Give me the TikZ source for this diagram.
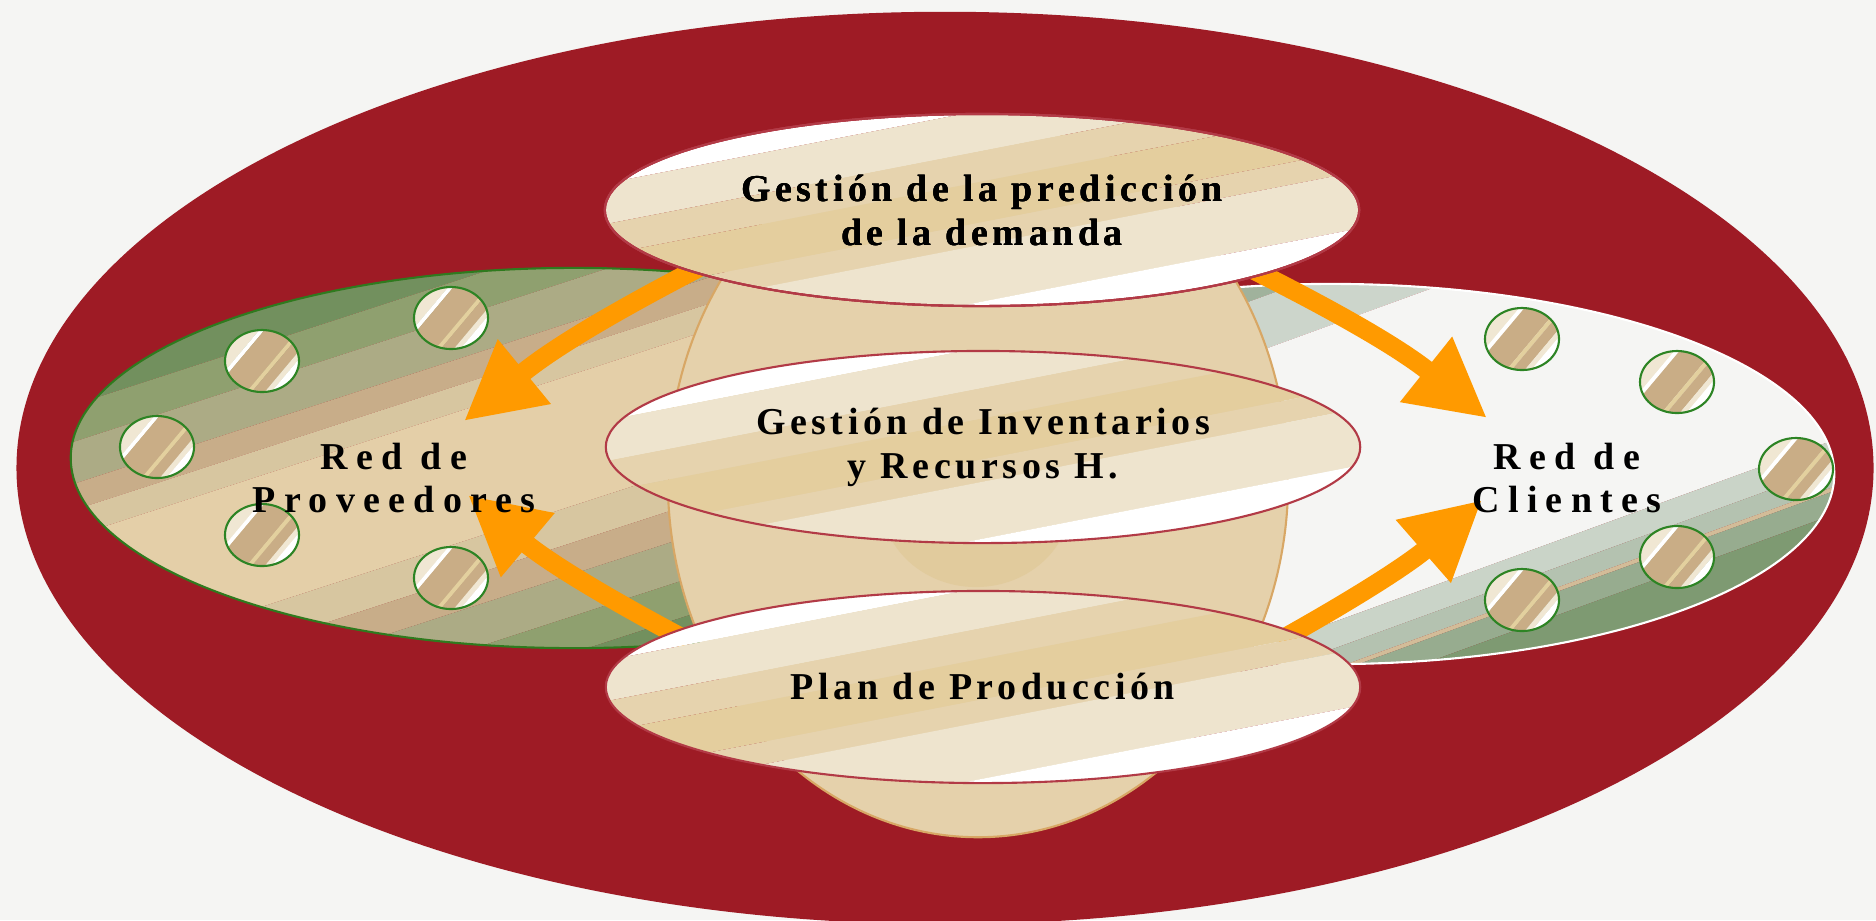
\documentclass[tikz,border=0pt]{standalone}
\usepackage{fontspec}
\usepackage{tikz}
\usetikzlibrary{shapes.geometric}
\usetikzlibrary{arrows.meta}

\newfontfamily\lblfont[LetterSpace=12]{Liberation Serif}
\newfontfamily\sidefont[LetterSpace=22]{Liberation Serif}

\definecolor{bgray}{HTML}{F5F5F3}
\definecolor{ringred}{HTML}{9E1B25}
\definecolor{rimred}{HTML}{B23A46}
\definecolor{coretan}{HTML}{D8A765}
\definecolor{corebeige}{HTML}{E5D1AB}
\definecolor{coredeep}{HTML}{E1CB9D}
\definecolor{provgreen}{HTML}{2F7A1E}
\definecolor{dotgreen}{HTML}{2D8424}
\definecolor{arrorange}{HTML}{FF9A00}
% band colours
\definecolor{bA}{HTML}{EEE4CE}
\definecolor{bB}{HTML}{E6D3AE}
\definecolor{bC}{HTML}{E4CE9E}
\definecolor{dA}{HTML}{F0E7D3}
\definecolor{dB}{HTML}{C9AD86}
\definecolor{dC}{HTML}{E3D09E}
\definecolor{gA}{HTML}{72905E}
\definecolor{gB}{HTML}{8FA06F}
\definecolor{gC}{HTML}{ACAB85}
\definecolor{gD}{HTML}{C8AD89}
\definecolor{gE}{HTML}{D7C6A0}
\definecolor{gF}{HTML}{E4CFA8}
\definecolor{cA}{HTML}{A0B29C}
\definecolor{cB}{HTML}{CCD5CB}
\definecolor{cC}{HTML}{CAD4C8}
\definecolor{cD}{HTML}{B4C2B0}
\definecolor{cE}{HTML}{D3BC98}
\definecolor{cF}{HTML}{97AC8F}
\definecolor{cG}{HTML}{7E9A72}

% diagonal colour bands clipped to an ellipse: centre, radii, angle, from/to/colour list
\newcommand\bands[4]{%
  \begin{scope}
    \clip #1 ellipse [#2];
    \begin{scope}[shift={#1},rotate=#3]
      \foreach \ba/\bb/\bcol in {#4}
        \fill[\bcol] (\ba,-800) rectangle (\bb,800);
    \end{scope}
  \end{scope}}

\pgfdeclarelayer{back}
\pgfdeclarelayer{flows}
\pgfsetlayers{back,flows,main}

\begin{document}
\begin{tikzpicture}[x=0.01cm,y=-0.01cm,
  ring/.style={ellipse,fill=ringred,inner sep=0pt},
  net/.style={ellipse,line width=0.6pt,inner sep=0pt,minimum width=10.06cm,minimum height=3.8cm},
  bead/.style={ellipse,draw=dotgreen,line width=0.6pt,inner sep=0pt,minimum width=0.74cm,minimum height=0.62cm},
  plate/.style={ellipse,draw=rimred,line width=0.6pt,inner sep=0pt,minimum width=7.54cm,minimum height=1.92cm,
    align=center,font=\lblfont\bfseries\fontsize{10.8}{12.5}\selectfont},
  side/.style={align=center,font=\sidefont\bfseries\fontsize{10.8}{12.5}\selectfont},
  feed/.style={color=arrorange,line width=0.19cm,-{Triangle[length=0.78cm,width=0.78cm]},shorten <=-0.2cm}]

  \begin{pgfonlayer}{back}
    \path[use as bounding box,fill=bgray] (0,0) rectangle (1876,920);
    \node[ring,minimum width=18.56cm,minimum height=9.12cm] (ring) at (945,468) {};

    \bands{(574,458)}{x radius=5.03cm,y radius=1.9cm}{-72}
      {-300/-205/gA,-205/-170/gB,-170/-130/gC,-130/-105/gD,-105/-80/gE,-80/45/gF,45/80/gE,80/110/gD,110/150/gC,150/185/gB,185/300/gA}
    \node[net,draw=provgreen] (provs) at (574,458) {};
    \bands{(1331,474)}{x radius=5.03cm,y radius=1.9cm}{-70}
      {-300/-190/cA,-190/-140/cB,-140/140/bgray,140/165/cC,165/184/cD,184/188/cE,188/210/cF,210/300/cG}
    \node[net,draw=white] (clis) at (1331,474) {};

    % beads of the two networks
    \foreach \px/\py [count=\i] in {451/318,262/361,157/447,262/535,451/578}{
      \bands{(\px,\py)}{x radius=0.37cm,y radius=0.31cm}{-40}{-60/-22/dA,-22/-18/white,-18/8/dB,8/12/dC,12/22/dB,22/27/dA,27/60/white}
      \node[bead] (p\i) at (\px,\py) {};}
    \foreach \px/\py [count=\i] in {1522/339,1677/382,1796/469,1677/557,1522/600}{
      \bands{(\px,\py)}{x radius=0.37cm,y radius=0.31cm}{-40}{-60/-22/dA,-22/-18/white,-18/8/dB,8/12/dC,12/22/dB,22/27/dA,27/60/white}
      \node[bead] (c\i) at (\px,\py) {};}

    \node[ellipse,draw=coretan,fill=corebeige,line width=0.6pt,minimum width=6.2cm,minimum height=7.14cm] (core) at (978,480) {};
    \node[ellipse,fill=coredeep,minimum width=1.9cm,minimum height=1.74cm] (hub) at (976,500) {};
  \end{pgfonlayer}

  \foreach \cx/\cy in {982/210,983/447,983/687}
    \bands{(\cx,\cy)}{x radius=3.77cm,y radius=0.96cm}{-79}{-200/-98/white,-98/-58/bA,-58/-28/bB,-28/12/bC,12/34/bB,34/90/bA,90/200/white}
  \node[plate] (pred) at (982,210) {Gestión de la predicción\\de la demanda};
  \node[plate] (inv) at (983,447) {Gestión de Inventarios\\y Recursos H.};
  \node[plate] (plan) at (983,687) {Plan de Producción};

  \node[side] (provlbl) at (394,478) {Red de\\Proveedores};
  \node[side] (clilbl) at (1567,478) {Red de\\Clientes};

  \coordinate (tipA) at (464,421);
  \coordinate (tipB) at (468,495);
  \coordinate (tipC) at (1487,418);
  \coordinate (tipD) at (1482,500);

  \begin{pgfonlayer}{flows}
    \path[feed]
      (pred.192) edge [bend right=6] (tipA)
      (plan.170) edge [bend left=6] (tipB)
      (pred.347) edge [bend left=6] (tipC)
      (plan.10) edge [bend right=6] (tipD);
  \end{pgfonlayer}

\end{tikzpicture}
\end{document}
